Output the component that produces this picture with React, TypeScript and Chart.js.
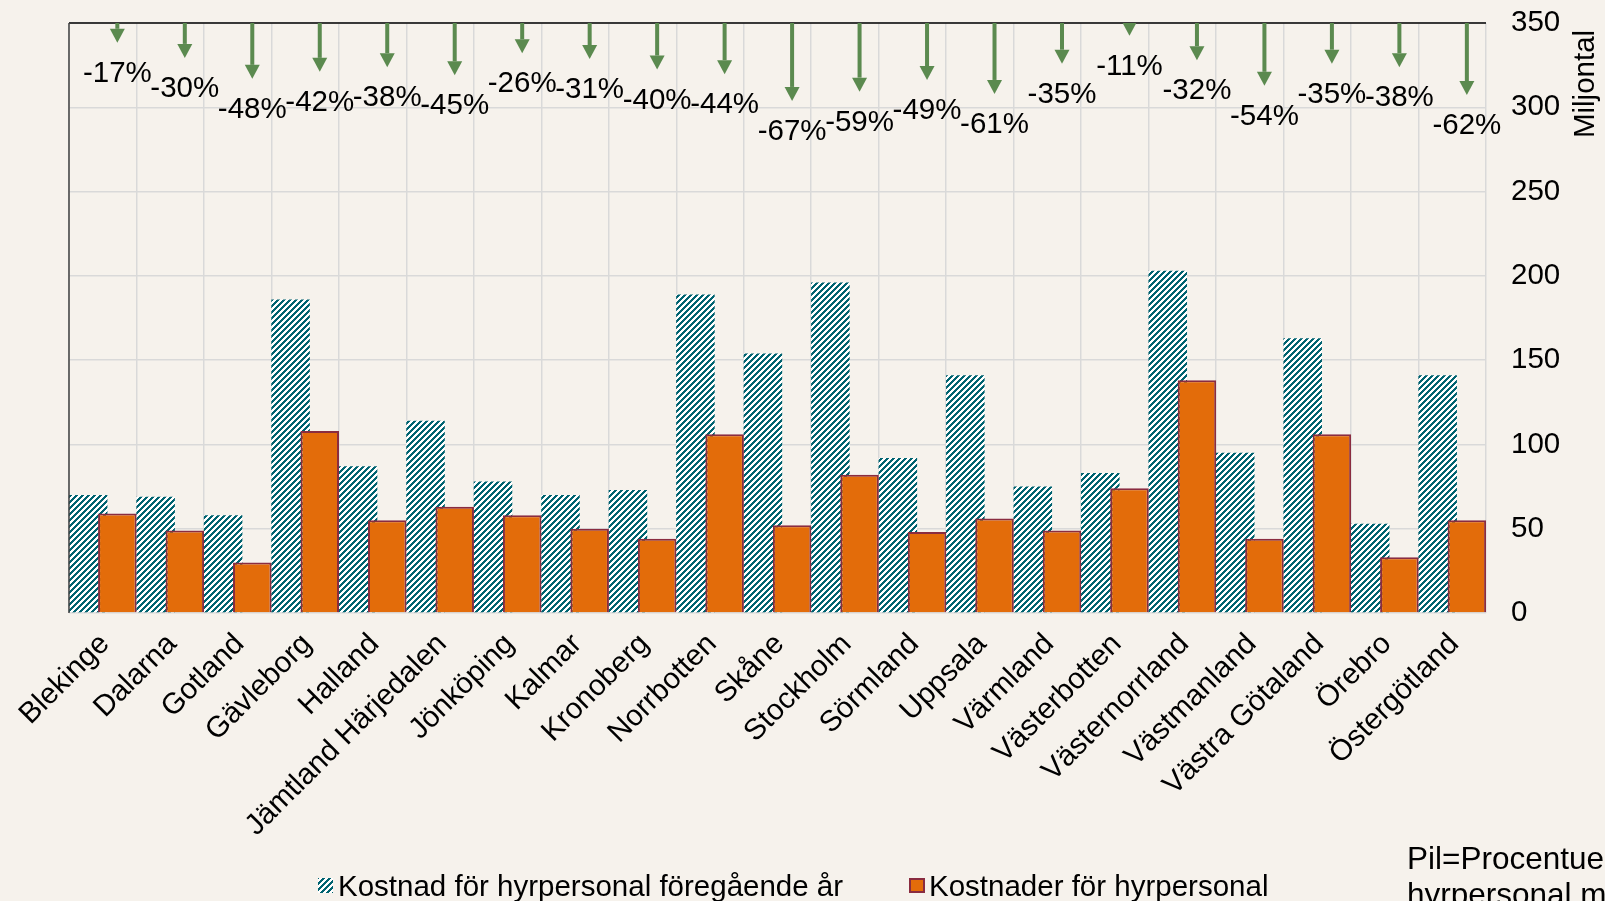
import React, { useEffect, useRef } from 'react';
import { Chart, registerables } from 'chart.js';

Chart.register(...registerables);

const categories = [
  'Blekinge', 'Dalarna', 'Gotland', 'Gävleborg', 'Halland', 'Jämtland Härjedalen',
  'Jönköping', 'Kalmar', 'Kronoberg', 'Norrbotten', 'Skåne', 'Stockholm', 'Sörmland',
  'Uppsala', 'Värmland', 'Västerbotten', 'Västernorrland', 'Västmanland',
  'Västra Götaland', 'Örebro', 'Östergötland',
];
const previousYear = [70, 69, 58, 186, 87, 114, 78, 70, 73, 189, 154, 196, 92, 141, 75, 83, 203, 95, 163, 53, 141];
const currentYear = [59, 49, 30, 108, 55, 63, 58, 50, 44, 106, 52, 82, 48, 56, 49, 74, 138, 44, 106, 33, 55];
const changePct = [-17, -30, -48, -42, -38, -45, -26, -31, -40, -44, -67, -59, -49, -61, -35, -11, -32, -54, -35, -38, -62];
const seriesNames = ['Kostnad för hyrpersonal föregående år', 'Kostnader för hyrpersonal'];
const axisTitle = 'Miljontal';
const noteLines = ['Pil=Procentuell förändring av kostnad för', 'hyrpersonal mellan åren'];
const yMin = 0;
const yMax = 350;
const yStep = 50;
const arrowUnitsPerPct = 0.69;

const FONT = "'Liberation Sans', Arial, sans-serif";
const FS = 29.5;
const BG = '#F6F2EC';
const TEAL = '#006370';
const ORANGE = '#E36C0A';
const MAROON = '#8A2C40';
const GREEN = '#5B8A4F';
const GRID = '#D9D9D9';

function makeHatch(): CanvasPattern | string {
  const c = document.createElement('canvas');
  c.width = 6;
  c.height = 6;
  const ctx = c.getContext('2d');
  if (!ctx) return TEAL;
  ctx.fillStyle = '#FFFFFF';
  ctx.fillRect(0, 0, 6, 6);
  ctx.fillStyle = TEAL;
  for (let y = 0; y < 6; y++) {
    for (let x = 0; x < 6; x++) {
      if ((x + y) % 6 < 3) ctx.fillRect(x, y, 1, 1);
    }
  }
  return ctx.createPattern(c, 'repeat') || TEAL;
}

export default function App() {
  const ref = useRef<HTMLCanvasElement | null>(null);

  useEffect(() => {
    const canvas = ref.current;
    if (!canvas) return;
    const hatch = makeHatch();

    const overlay = {
      id: 'overlay',
      beforeDraw(chart: any) {
        const ctx = chart.ctx;
        ctx.save();
        ctx.fillStyle = BG;
        ctx.fillRect(0, 0, chart.width, chart.height);
        ctx.restore();
      },
      beforeDatasetDraw(chart: any, args: any) {
        // draw the previous-year (hatched) bars first, current-year bars on top
        if (args.index === 0) return false;
        if (args.index === 1) {
          chart.getDatasetMeta(0).controller.draw();
        }
        return true;
      },
      afterDatasetsDraw(chart: any) {
        const ctx = chart.ctx;
        const area = chart.chartArea;
        const y = chart.scales.y;
        const meta = chart.getDatasetMeta(1);
        ctx.save();
        ctx.strokeStyle = '#000000';
        ctx.lineWidth = 1.5;
        ctx.beginPath();
        ctx.moveTo(area.left, area.top);
        ctx.lineTo(area.right, area.top);
        ctx.stroke();
        ctx.strokeStyle = '#404040';
        ctx.beginPath();
        ctx.moveTo(area.left, area.top);
        ctx.lineTo(area.left, area.bottom);
        ctx.stroke();

        ctx.save();
        ctx.beginPath();
        ctx.rect(area.left, area.top, area.right - area.left, area.bottom - area.top);
        ctx.clip();
        ctx.fillStyle = GREEN;
        changePct.forEach((p, i) => {
          const bar = meta.data[i];
          if (!bar) return;
          const x = bar.x;
          const tip = y.getPixelForValue(yMax + p * arrowUnitsPerPct);
          const headL = 14;
          const headW = 15;
          const top = area.top;
          if (tip - headL > top) ctx.fillRect(x - 2, top, 4, tip - headL - top);
          ctx.beginPath();
          ctx.moveTo(x - headW / 2, tip - headL);
          ctx.lineTo(x + headW / 2, tip - headL);
          ctx.lineTo(x, tip);
          ctx.closePath();
          ctx.fill();
        });
        ctx.restore();

        ctx.fillStyle = '#000000';
        ctx.font = `${FS}px ${FONT}`;
        ctx.textAlign = 'center';
        ctx.textBaseline = 'middle';
        changePct.forEach((p, i) => {
          const bar = meta.data[i];
          if (!bar) return;
          const tip = y.getPixelForValue(yMax + p * arrowUnitsPerPct);
          ctx.fillText(`${p}%`, bar.x, tip + 31);
        });
        ctx.restore();
      },
      afterDraw(chart: any) {
        const ctx = chart.ctx;
        const area = chart.chartArea;
        ctx.save();
        ctx.fillStyle = '#000000';
        ctx.font = `${FS}px ${FONT}`;
        ctx.save();
        ctx.translate(area.right + 100, area.top + 61);
        ctx.rotate(-Math.PI / 2);
        ctx.textAlign = 'center';
        ctx.textBaseline = 'middle';
        ctx.fillText(axisTitle, 0, 0);
        ctx.restore();

        const ly = 888;
        ctx.textAlign = 'left';
        ctx.textBaseline = 'middle';
        ctx.fillStyle = hatch as any;
        ctx.fillRect(318, 878, 15, 15);
        ctx.fillStyle = '#000000';
        ctx.fillText(seriesNames[0], 338, ly);
        ctx.fillStyle = ORANGE;
        ctx.fillRect(909, 878, 16, 15);
        ctx.strokeStyle = MAROON;
        ctx.lineWidth = 2;
        ctx.strokeRect(910, 879, 14, 13);
        ctx.fillStyle = '#000000';
        ctx.fillText(seriesNames[1], 929, ly);

        ctx.font = `31.5px ${FONT}`;
        ctx.textBaseline = 'alphabetic';
        ctx.fillText(noteLines[0], 1407, 869);
        ctx.fillText(noteLines[1], 1407, 905);
        ctx.restore();
      },
    };

    const chart = new Chart(canvas, {
      type: 'bar',
      data: {
        labels: categories,
        datasets: [
          {
            label: seriesNames[0],
            data: previousYear,
            backgroundColor: hatch as any,
            borderWidth: 0,
            categoryPercentage: 0.865,
            barPercentage: 1.32,
          },
          {
            label: seriesNames[1],
            data: currentYear,
            backgroundColor: ORANGE,
            borderColor: MAROON,
            borderWidth: 2,
            categoryPercentage: 0.865,
            barPercentage: 1.32,
          },
        ],
      },
      options: {
        animation: false,
        responsive: false,
        maintainAspectRatio: false,
        layout: { padding: { left: 69, top: 23, right: 0, bottom: 0 } },
        plugins: {
          legend: { display: false },
          tooltip: { enabled: false },
        },
        scales: {
          x: {
            type: 'category',
            offset: true,
            grid: { offset: true, color: GRID, lineWidth: 1.5, drawTicks: false },
            border: { display: false },
            ticks: {
              autoSkip: false,
              minRotation: 45,
              maxRotation: 45,
              padding: 14,
              labelOffset: 2,
              color: '#000000',
              font: { family: FONT, size: FS },
            },
            afterFit: (s: any) => {
              s.height = 288;
              s.paddingLeft = 0;
              s.paddingRight = 0;
            },
          },
          y: {
            position: 'right',
            min: yMin,
            max: yMax,
            grid: { color: GRID, lineWidth: 1.5, drawTicks: false },
            border: { display: false },
            ticks: {
              stepSize: yStep,
              padding: 25,
              color: '#000000',
              font: { family: FONT, size: FS },
            },
            afterFit: (s: any) => {
              s.width = 119;
              s.paddingTop = 0;
              s.paddingBottom = 0;
            },
          },
        },
      },
      plugins: [overlay],
    });

    return () => chart.destroy();
  }, []);

  return (
    <div style={{ position: 'fixed', left: 0, top: 0, width: 1605, height: 901, background: BG }}>
      <canvas ref={ref} width={1605} height={901} style={{ display: 'block' }} />
    </div>
  );
}
